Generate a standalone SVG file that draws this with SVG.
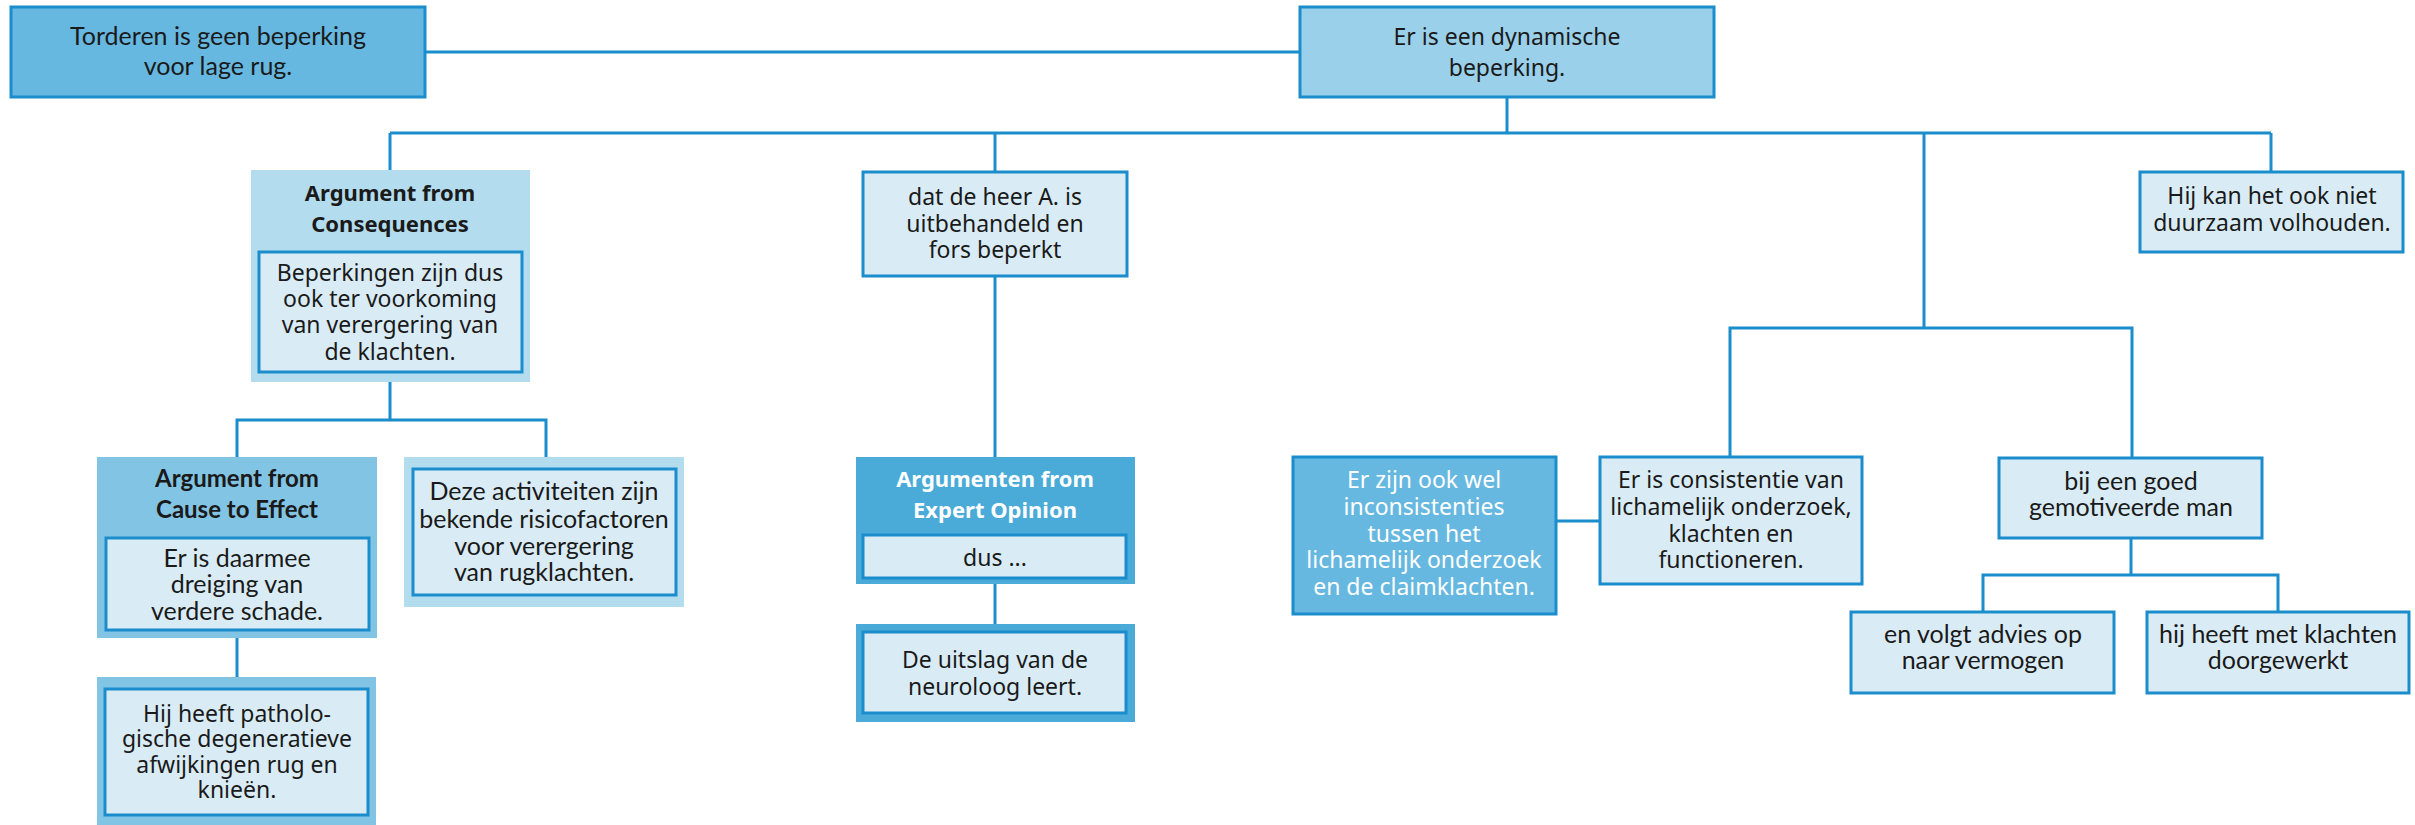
<svg xmlns="http://www.w3.org/2000/svg" width="2415" height="825" viewBox="0 0 2415 825">
  <style>
    .bg { fill: #ffffff; }
    .wire { stroke: #1b8dcc; stroke-width: 3; fill: none; }
    .box { stroke: #1b8dcc; stroke-width: 3; }
    .pale { fill: #d9ecf6; }
    .mid { fill: #66b8e0; }
    .sky { fill: #9bd0ea; }
    .frame-a { fill: #b3dcee; }
    .frame-b { fill: #82c4e4; }
    .frame-c { fill: #4aaad8; }
    text { text-anchor: middle; fill: #1a1a1a; }
    .n { font-family: "Noto Sans", "Open Sans", sans-serif; font-size: 23px; }
    .c { font-family: Lato, "Liberation Sans", sans-serif; font-size: 25px; }
    .nb { font-family: "Noto Sans", "Open Sans", sans-serif; font-size: 22px; font-weight: bold; }
    .cb { font-family: Lato, "Liberation Sans", sans-serif; font-size: 24px; font-weight: bold; }
    .w { fill: #ffffff; }
  </style>
  <rect class="bg" x="0" y="0" width="2415" height="825"/>

  <g id="connectors">
    <line class="wire" x1="425" y1="52" x2="1300" y2="52"/>
    <line class="wire" x1="1507" y1="97" x2="1507" y2="133"/>
    <line class="wire" x1="390" y1="133" x2="2271" y2="133"/>
    <line class="wire" x1="390" y1="133" x2="390" y2="170"/>
    <line class="wire" x1="995" y1="133" x2="995" y2="172"/>
    <line class="wire" x1="2271" y1="133" x2="2271" y2="172"/>
    <line class="wire" x1="1924" y1="133" x2="1924" y2="328"/>
    <polyline class="wire" points="1730,457 1730,328 2132,328 2132,458"/>
    <line class="wire" x1="390" y1="382" x2="390" y2="420"/>
    <polyline class="wire" points="237,457 237,420 546,420 546,457"/>
    <line class="wire" x1="237" y1="638" x2="237" y2="677"/>
    <line class="wire" x1="995" y1="276" x2="995" y2="457"/>
    <line class="wire" x1="995" y1="584" x2="995" y2="624"/>
    <line class="wire" x1="1556" y1="521" x2="1600" y2="521"/>
    <line class="wire" x1="2131" y1="538" x2="2131" y2="575"/>
    <polyline class="wire" points="1983,612 1983,575 2278,575 2278,612"/>
  </g>

  <g id="torderen">
    <rect class="box mid" x="11" y="7" width="414" height="90"/>
    <text class="c"><tspan x="218" y="45">Torderen is geen beperking</tspan><tspan x="218" y="75">voor lage rug.</tspan></text>
  </g>

  <g id="dynamisch">
    <rect class="box sky" x="1300" y="7" width="414" height="90"/>
    <text class="n"><tspan x="1507" y="45">Er is een dynamische</tspan><tspan x="1507" y="76">beperking.</tspan></text>
  </g>

  <g id="consequences">
    <rect class="frame-a" x="251" y="170" width="279" height="212"/>
    <text class="nb"><tspan x="390" y="201">Argument from</tspan><tspan x="390" y="232">Consequences</tspan></text>
    <rect class="box pale" x="259" y="252" width="263" height="120"/>
    <text class="n"><tspan x="390" y="281">Beperkingen zijn dus</tspan><tspan x="390" y="307">ook ter voorkoming</tspan><tspan x="390" y="333">van verergering van</tspan><tspan x="390" y="360">de klachten.</tspan></text>
  </g>

  <g id="heer-a">
    <rect class="box pale" x="863" y="172" width="264" height="104"/>
    <text class="n"><tspan x="995" y="205">dat de heer A. is</tspan><tspan x="995" y="232">uitbehandeld en</tspan><tspan x="995" y="258">fors beperkt</tspan></text>
  </g>

  <g id="volhouden">
    <rect class="box pale" x="2140" y="172" width="263" height="80"/>
    <text class="n"><tspan x="2272" y="204">Hij kan het ook niet</tspan><tspan x="2272" y="231">duurzaam volhouden.</tspan></text>
  </g>

  <g id="cause-effect">
    <rect class="frame-b" x="97" y="457" width="280" height="181"/>
    <text class="cb"><tspan x="237" y="487">Argument from</tspan><tspan x="237" y="518">Cause to Effect</tspan></text>
    <rect class="box pale" x="106" y="538" width="263" height="92"/>
    <text class="c"><tspan x="237" y="567">Er is daarmee</tspan><tspan x="237" y="593">dreiging van</tspan><tspan x="237" y="620">verdere schade.</tspan></text>
  </g>

  <g id="risicofactoren">
    <rect class="frame-a" x="404" y="457" width="280" height="150"/>
    <rect class="box pale" x="413" y="469" width="263" height="126"/>
    <text class="c"><tspan x="544" y="500">Deze activiteiten zijn</tspan><tspan x="544" y="528">bekende risicofactoren</tspan><tspan x="544" y="555">voor verergering</tspan><tspan x="544" y="581">van rugklachten.</tspan></text>
  </g>

  <g id="pathologisch">
    <rect class="frame-b" x="97" y="677" width="279" height="160"/>
    <rect class="box pale" x="105" y="689" width="263" height="126"/>
    <text class="n"><tspan x="237" y="722">Hij heeft patholo-</tspan><tspan x="237" y="747">gische degeneratieve</tspan><tspan x="237" y="773">afwijkingen rug en</tspan><tspan x="237" y="798">knieën.</tspan></text>
  </g>

  <g id="expert-opinion">
    <rect class="frame-c" x="856" y="457" width="279" height="127"/>
    <text class="nb w"><tspan x="995" y="487">Argumenten from</tspan><tspan x="995" y="518">Expert Opinion</tspan></text>
    <rect class="box pale" x="863" y="535" width="263" height="43"/>
    <text class="n" x="995" y="566">dus ...</text>
  </g>

  <g id="neuroloog">
    <rect class="frame-c" x="856" y="624" width="279" height="98"/>
    <rect class="box pale" x="863" y="632" width="263" height="81"/>
    <text class="n"><tspan x="995" y="668">De uitslag van de</tspan><tspan x="995" y="695">neuroloog leert.</tspan></text>
  </g>

  <g id="inconsistenties">
    <rect class="box mid" x="1293" y="457" width="263" height="157"/>
    <text class="n w"><tspan x="1424" y="488">Er zijn ook wel</tspan><tspan x="1424" y="515">inconsistenties</tspan><tspan x="1424" y="542">tussen het</tspan><tspan x="1424" y="568">lichamelijk onderzoek</tspan><tspan x="1424" y="595">en de claimklachten.</tspan></text>
  </g>

  <g id="consistentie">
    <rect class="box pale" x="1600" y="457" width="262" height="127"/>
    <text class="n"><tspan x="1731" y="488">Er is consistentie van</tspan><tspan x="1731" y="515">lichamelijk onderzoek,</tspan><tspan x="1731" y="542">klachten en</tspan><tspan x="1731" y="568">functioneren.</tspan></text>
  </g>

  <g id="gemotiveerd">
    <rect class="box pale" x="1999" y="458" width="263" height="80"/>
    <text class="c"><tspan x="2131" y="490">bij een goed</tspan><tspan x="2131" y="516">gemotiveerde man</tspan></text>
  </g>

  <g id="advies">
    <rect class="box pale" x="1851" y="612" width="263" height="81"/>
    <text class="c"><tspan x="1983" y="643">en volgt advies op</tspan><tspan x="1983" y="669">naar vermogen</tspan></text>
  </g>

  <g id="doorgewerkt">
    <rect class="box pale" x="2147" y="612" width="262" height="81"/>
    <text class="c"><tspan x="2278" y="643">hij heeft met klachten</tspan><tspan x="2278" y="669">doorgewerkt</tspan></text>
  </g>
</svg>
